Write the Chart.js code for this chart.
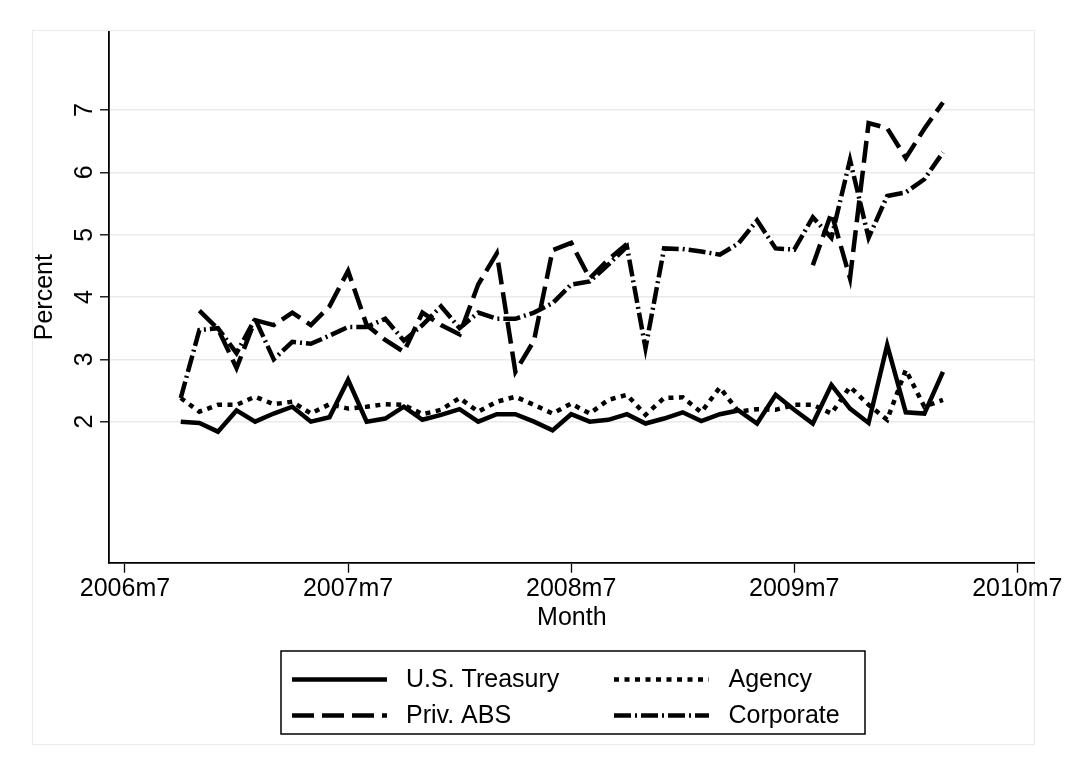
<!DOCTYPE html>
<html><head><meta charset="utf-8">
<script src="https://cdn.jsdelivr.net/npm/chart.js@4"></script>
<style>html,body{margin:0;padding:0;background:#fff}#c{display:block}</style>
</head><body>
<div style="width:1066px;height:767px"><canvas id="c" width="1066" height="767"></canvas></div>
<script>
// ---- data ----
const months = ['2006m10','2006m11','2006m12','2007m1','2007m2','2007m3','2007m4','2007m5','2007m6','2007m7',
  '2007m8','2007m9','2007m10','2007m11','2007m12','2008m1','2008m2','2008m3','2008m4','2008m5','2008m6','2008m7',
  '2008m8','2008m9','2008m10','2008m11','2008m12','2009m1','2009m2','2009m3','2009m4','2009m5','2009m6','2009m7',
  '2009m8','2009m9','2009m10','2009m11','2009m12','2010m1','2010m2','2010m3'];
const treasury = [2.00,1.98,1.84,2.18,2.00,2.13,2.24,2.00,2.07,2.67,2.00,2.05,2.24,2.03,2.11,2.20,2.00,2.12,2.12,2.00,1.86,2.12,
  2.00,2.03,2.12,1.97,2.05,2.15,2.01,2.12,2.18,1.97,2.43,2.19,1.97,2.59,2.21,1.98,3.23,2.15,2.13,2.80];
const agency = [2.38,2.16,2.27,2.27,2.40,2.28,2.32,2.13,2.28,2.21,2.24,2.28,2.27,2.12,2.19,2.38,2.16,2.32,2.40,2.27,2.13,2.29,
  2.13,2.35,2.43,2.11,2.38,2.39,2.15,2.55,2.16,2.20,2.19,2.27,2.27,2.13,2.56,2.27,2.03,2.83,2.24,2.35];
const privABS = [null,3.78,3.49,2.86,3.63,3.55,3.75,3.55,3.85,4.42,3.55,3.31,3.12,3.75,3.55,3.40,4.20,4.70,2.80,3.30,4.75,4.87,
  4.30,4.60,4.85,null,null,null,null,null,null,null,null,null,4.51,5.35,4.30,6.79,6.71,6.23,6.70,7.12];
const corporate = [2.38,3.47,3.50,3.10,3.65,3.00,3.28,3.25,3.38,3.52,3.52,3.65,3.30,3.55,3.85,3.50,3.75,3.65,3.65,3.75,3.90,4.20,
  4.25,4.52,4.81,3.18,4.78,4.77,4.73,4.68,4.86,5.23,4.78,4.76,5.28,4.95,6.20,4.95,5.62,5.68,5.89,6.32];
const seriesNames = ['U.S. Treasury','Agency','Priv. ABS','Corporate'];
const xTickLabels = ['2006m7','2007m7','2008m7','2009m7','2010m7'];
const yTickValues = [2,3,4,5,6,7];

// month label -> months since 2006m7
function mIdx(s){const p=s.split('m');return (parseInt(p[0])-2006)*12+(parseInt(p[1])-7);}
function pts(arr){return months.map((m,i)=>({x:mIdx(m),y:arr[i]}));}

const FONT = '"Liberation Sans", Arial, Helvetica, sans-serif';
const dashes = [[], [5,5.5], [22,8], [17,4,2,4]];
const seriesData = [treasury, agency, privABS, corporate];

const datasets = seriesData.map((arr,i)=>({
  label: seriesNames[i], data: pts(arr), borderColor:'#000', backgroundColor:'#000',
  borderWidth:4.5, borderDash:dashes[i], pointRadius:0, tension:0, fill:false,
  borderCapStyle:'butt', borderJoinStyle:'miter', spanGaps:false, order: 3-i
}));

const decor = {
  id:'decor',
  beforeDraw(chart){
    const c=chart.ctx; c.save();
    c.strokeStyle='#ececec'; c.lineWidth=1.2;
    c.strokeRect(32.5,30.5,1002,714);
    c.restore();
  },
  afterDraw(chart){
    const c=chart.ctx; c.save();
    c.strokeStyle='#000'; c.lineWidth=1.5;
    c.strokeRect(281,651,584,83);
    const rows=[679.5,715.5], cols=[[292,387,406],[614,709,728.5]];
    c.font='25px '+FONT; c.fillStyle='#000'; c.textBaseline='middle'; c.textAlign='left';
    [0,1,2,3].forEach((di,k)=>{
      const r=rows[Math.floor(k/2)], col=cols[k%2];
      const ds=chart.data.datasets[di];
      c.beginPath(); c.setLineDash(ds.borderDash); c.lineWidth=ds.borderWidth; c.lineCap='butt';
      c.moveTo(col[0],r); c.lineTo(col[1],r); c.stroke();
      c.setLineDash([]);
      c.fillText(ds.label,col[2],r+1);
    });
    c.restore();
  }
};

new Chart(document.getElementById('c'),{
  type:'line',
  data:{datasets},
  options:{
    responsive:false, devicePixelRatio:1, animation:false,
    layout:{padding:{left:0,top:31.7,right:31.4,bottom:134}},
    plugins:{legend:{display:false},tooltip:{enabled:false}},
    scales:{
      x:{type:'linear',min:-0.86,max:48.93,
        afterBuildTicks:(s)=>{s.ticks=xTickLabels.map(l=>({value:mIdx(l)}));},
        afterFit:(s)=>{s.height=70.3;},
        grid:{drawOnChartArea:false,drawTicks:true,tickLength:10,tickColor:'#000',tickWidth:1.3},
        border:{display:true,color:'#000',width:1.8},
        ticks:{color:'#000',font:{family:FONT,size:25},padding:1,maxRotation:0,autoSkip:false,
          callback:(v)=>{const i=xTickLabels.findIndex(l=>mIdx(l)===v);return i>=0?xTickLabels[i]:'';}},
        title:{display:true,text:'Month',color:'#000',font:{family:FONT,size:25},padding:{top:0,bottom:0}}
      },
      y:{type:'linear',min:-0.263,max:8.257,
        afterBuildTicks:(s)=>{s.ticks=yTickValues.map(v=>({value:v}));},
        afterFit:(s)=>{s.width=109;},
        grid:{color:'#eaeaea',lineWidth:1.6,drawTicks:true,tickLength:9,tickColor:'#000',tickWidth:1.3},
        border:{display:true,color:'#000',width:1.8},
        ticks:{color:'#000',font:{family:FONT,size:25},padding:8,minRotation:90,maxRotation:90,crossAlign:'center',autoSkip:false},
        title:{display:true,text:'Percent',color:'#000',font:{family:FONT,size:25},padding:{top:30,bottom:0}}
      }
    }
  },
  plugins:[decor]
});
</script>
</body></html>
